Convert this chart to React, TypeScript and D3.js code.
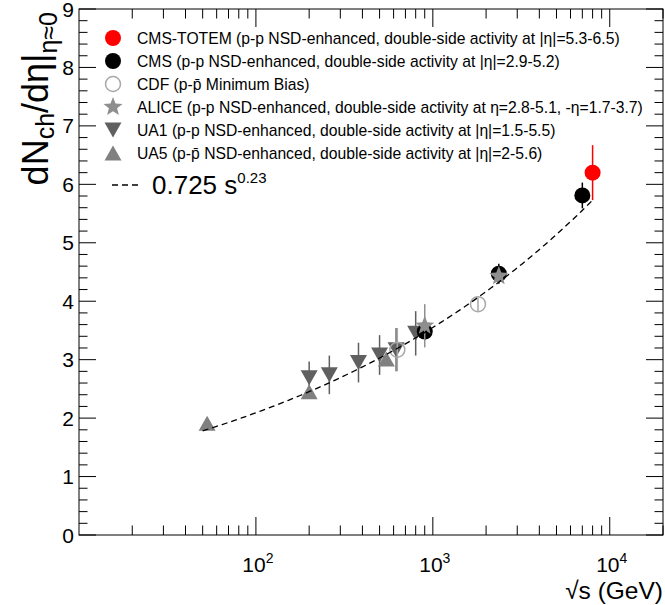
import React from "react";
import * as d3 from "d3";

// ---------- data ----------
const ua1Energy = [200, 260, 380, 500, 620, 800];
const ua1Value = [2.69, 2.74, 2.95, 3.08, 3.17, 3.45];
const ua1Err = [0.28, 0.33, 0.34, 0.34, 0.37, 0.38];

const ua5Energy = [53, 200, 546];
const ua5Value = [1.91, 2.45, 3.01];
const ua5Err = [0.05, 0.05, 0.05];

const cdfEnergy = [630, 1800];
const cdfValue = [3.17, 3.95];
const cdfErr = [0.37, 0.12];

const cmsEnergy = [900, 2360, 7000];
const cmsValue = [3.48, 4.47, 5.81];
const cmsErr = [0.14, 0.17, 0.22];

const aliceEnergy = [900, 2360];
const aliceValue = [3.58, 4.43];
const aliceErr = [0.37, 0.1];

const totemEnergy = [8000];
const totemValue = [6.2];
const totemErr = [0.47];

const fitA = 0.725;
const fitB = 0.23;
const fitRange = [50, 8000];

const yTicks = [0, 1, 2, 3, 4, 5, 6, 7, 8, 9];
const xMajor = [100, 1000, 10000];
const xMajorExp = ["2", "3", "4"];

const legendLabels = [
  "CMS-TOTEM (p-p NSD-enhanced, double-side activity at |\u03b7|=5.3-6.5)",
  "CMS (p-p NSD-enhanced, double-side activity at |\u03b7|=2.9-5.2)",
  "CDF (p-p\u0304 Minimum Bias)",
  "ALICE (p-p NSD-enhanced, double-side activity at \u03b7=2.8-5.1, -\u03b7=1.7-3.7)",
  "UA1 (p-p NSD-enhanced, double-side activity at |\u03b7|=1.5-5.5)",
  "UA5 (p-p\u0304 NSD-enhanced, double-side activity at |\u03b7|=2-5.6)",
];

// ---------- layout ----------
const W = 665, H = 605;
const L = 79, R = 663, T = 9, B = 535;
const FONT = "'Liberation Sans', Arial, Helvetica, sans-serif";

const x = d3.scaleLog().domain([10, 20000]).range([L, R]);
const y = d3.scaleLinear().domain([0, 9]).range([B, T]);

const C_RED = "#ff0000";
const C_BLACK = "#000000";
const C_CDF = "#a8a8a8";
const C_ALICE = "#8e8e8e";
const C_UA1 = "#606060";
const C_UA5 = "#808080";

function starPath(cx: number, cy: number, ro: number, ri: number) {
  const pts: string[] = [];
  for (let i = 0; i < 10; i++) {
    const r = i % 2 === 0 ? ro : ri;
    const a = -Math.PI / 2 + (i * Math.PI) / 5;
    pts.push(`${cx + r * Math.cos(a)},${cy + r * Math.sin(a)}`);
  }
  return "M" + pts.join("L") + "Z";
}
function triUp(cx: number, cy: number) {
  const w = 8.5, h = 7.5;
  return `M${cx - w},${cy + h}L${cx + w},${cy + h}L${cx},${cy - h}Z`;
}
function triDown(cx: number, cy: number) {
  const w = 8.5, h = 7.5;
  return `M${cx - w},${cy - h}L${cx + w},${cy - h}L${cx},${cy + h}Z`;
}

type Kind = "circle" | "open" | "star" | "down" | "up";
function Marker({ kind, cx, cy, color }: { kind: Kind; cx: number; cy: number; color: string }) {
  if (kind === "circle") return <circle cx={cx} cy={cy} r={8} fill={color} />;
  if (kind === "open") return <circle cx={cx} cy={cy} r={7.5} fill="none" stroke={color} strokeWidth={1.5} />;
  if (kind === "star") return <path d={starPath(cx, cy, 10, 4.3)} fill={color} />;
  if (kind === "down") return <path d={triDown(cx, cy)} fill={color} />;
  return <path d={triUp(cx, cy)} fill={color} />;
}

function Series({ es, vs, errs, kind, color }: { es: number[]; vs: number[]; errs: number[]; kind: Kind; color: string }) {
  return (
    <g>
      {es.map((e, i) => (
        <line key={"e" + i} x1={x(e)} x2={x(e)} y1={y(vs[i] + errs[i])} y2={y(vs[i] - errs[i])} stroke={color} strokeWidth={1.5} />
      ))}
      {es.map((e, i) => (
        <Marker key={"m" + i} kind={kind} cx={x(e)} cy={y(vs[i])} color={color} />
      ))}
    </g>
  );
}

export default function App() {
  const xMinor: number[] = [];
  for (let dec = 10; dec <= 10000; dec *= 10) {
    for (let k = 2; k <= 9; k++) {
      const v = dec * k;
      if (v <= 20000) xMinor.push(v);
    }
  }
  const yMinor: number[] = [];
  for (let v = 0; v <= 9.0001; v += 0.2) {
    const r = Math.round(v * 10) / 10;
    if (Math.abs(r - Math.round(r)) > 0.01) yMinor.push(r);
  }

  const fitPts = d3.range(0, 101).map((i) => {
    const lx = Math.log10(fitRange[0]) + (i / 100) * (Math.log10(fitRange[1]) - Math.log10(fitRange[0]));
    const e = Math.pow(10, lx);
    return [e, fitA * Math.pow(e, fitB)] as [number, number];
  });
  const fitLine = d3.line<[number, number]>().x((d) => x(d[0])).y((d) => y(d[1]))(fitPts) || "";

  const legendKinds: Kind[] = ["circle", "circle", "open", "star", "down", "up"];
  const legendColors = [C_RED, C_BLACK, C_CDF, C_ALICE, C_UA1, C_UA5];
  const legendY0 = 38, legendDy = 23;

  return (
    <svg width={W} height={H} style={{ position: "absolute", left: 0, top: 0, background: "#fff" }} fontFamily={FONT}>
      <rect x={0} y={0} width={W} height={H} fill="#fff" />

      {/* ticks */}
      <g stroke="#000" strokeWidth={1}>
        {yTicks.map((t) => (
          <g key={"yt" + t}>
            <line x1={L} x2={L + 17} y1={y(t)} y2={y(t)} />
            <line x1={R} x2={R - 17} y1={y(t)} y2={y(t)} />
          </g>
        ))}
        {yMinor.map((t) => (
          <g key={"ym" + t}>
            <line x1={L} x2={L + 8.5} y1={y(t)} y2={y(t)} />
            <line x1={R} x2={R - 8.5} y1={y(t)} y2={y(t)} />
          </g>
        ))}
        {xMajor.map((t) => (
          <g key={"xt" + t}>
            <line x1={x(t)} x2={x(t)} y1={B} y2={B - 18} />
            <line x1={x(t)} x2={x(t)} y1={T} y2={T + 18} />
          </g>
        ))}
        {xMinor.map((t) => (
          <g key={"xm" + t}>
            <line x1={x(t)} x2={x(t)} y1={B} y2={B - 9.5} />
            <line x1={x(t)} x2={x(t)} y1={T} y2={T + 9.5} />
          </g>
        ))}
      </g>
      <rect x={L} y={T} width={R - L} height={B - T} fill="none" stroke="#000" strokeWidth={1} />

      {/* tick labels */}
      <g fontSize={21} fill="#000">
        {yTicks.map((t) => (
          <text key={"yl" + t} x={74} y={y(t) + 7.5} textAnchor="end">{t}</text>
        ))}
        {xMajor.map((t, i) => (
          <text key={"xl" + t} x={x(t) + 2} y={572} textAnchor="middle">
            10<tspan fontSize={14} dy={-9}>{xMajorExp[i]}</tspan>
          </text>
        ))}
      </g>

      {/* axis titles */}
      <text transform={`translate(48, 12) rotate(-90)`} textAnchor="end" fontSize={36} fill="#000">
        dN<tspan fontSize={25} dy={6}>ch</tspan><tspan dy={-6}>/d{"\u03b7"}|</tspan><tspan fontSize={25} dy={9}>{"\u03b7\u22480"}</tspan>
      </text>
      <text x={663} y={599} textAnchor="end" fontSize={24.5} fill="#000">
        {"\u221as (GeV)"}
      </text>

      {/* data */}
      <Series es={ua1Energy} vs={ua1Value} errs={ua1Err} kind="down" color={C_UA1} />
      <Series es={ua5Energy} vs={ua5Value} errs={ua5Err} kind="up" color={C_UA5} />
      <Series es={cdfEnergy} vs={cdfValue} errs={cdfErr} kind="open" color={C_CDF} />
      <Series es={cmsEnergy} vs={cmsValue} errs={cmsErr} kind="circle" color={C_BLACK} />
      <Series es={aliceEnergy} vs={aliceValue} errs={aliceErr} kind="star" color={C_ALICE} />
      <Series es={totemEnergy} vs={totemValue} errs={totemErr} kind="circle" color={C_RED} />

      <path d={fitLine} fill="none" stroke="#000" strokeWidth={1.3} strokeDasharray="6,4" />

      {/* legend */}
      <g>
        {legendLabels.map((lab, i) => (
          <g key={"lg" + i}>
            <Marker kind={legendKinds[i]} cx={113} cy={legendY0 + i * legendDy} color={legendColors[i]} />
            <text x={137} y={legendY0 + i * legendDy + 5.5} fontSize={15.7} fill="#000">{lab}</text>
          </g>
        ))}
        <line x1={112} x2={142} y1={185} y2={185} stroke="#000" strokeWidth={1.3} strokeDasharray="6,4" />
        <text x={152} y={194} fontSize={26} fill="#000">
          0.725 s<tspan fontSize={15} dy={-11}>0.23</tspan>
        </text>
      </g>
    </svg>
  );
}
